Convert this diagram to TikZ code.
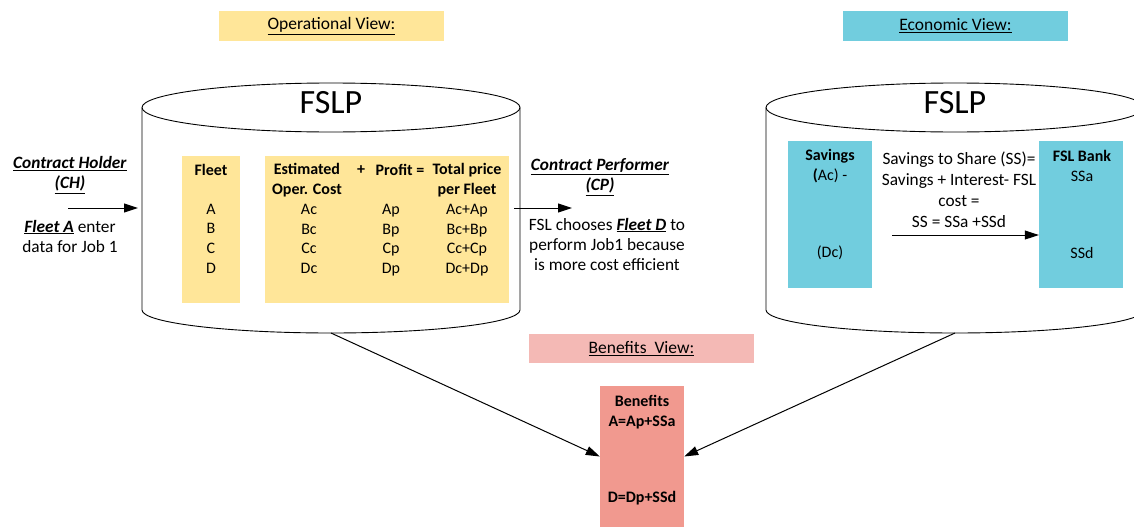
\documentclass[tikz,border=0pt]{standalone}
\usepackage{fontspec}
\setmainfont{Carlito}
\usetikzlibrary{arrows.meta}
\definecolor{opyellow}{HTML}{FFE699}
\definecolor{ecocyan}{HTML}{71CDDE}
\definecolor{benlight}{HTML}{F4B9B5}
\definecolor{benbox}{HTML}{F1998F}
\begin{document}
\begin{tikzpicture}[x=1pt,y=-1pt,
  cyl/.style={draw=black, line width=0.9pt},
  arr/.style={draw=black, line width=1pt, -{Triangle[length=14pt,width=9pt]}},
  panel/.style={draw=none, inner sep=0pt, anchor=center},
  txt/.style={inner sep=0pt, align=center, font=\fontsize{17.3}{20}\selectfont},
  tab/.style={inner sep=0pt, align=center, font=\fontsize{16}{19.6}\selectfont},
  tabb/.style={tab, font=\fontsize{16}{19.6}\selectfont\bfseries},
  head/.style={panel, minimum width=225pt, minimum height=30pt, font=\fontsize{17.5}{20}\selectfont},
  big/.style={inner sep=0pt, font=\fontsize{34}{36}\selectfont}
]
\useasboundingbox (0,0) rectangle (1134,527);
\clip (0,0) rectangle (1134,527);

% header labels
\node[head, fill=opyellow] (opview) at (331.5,26) {\underline{Operational View:}};
\node[head, fill=ecocyan] (ecoview) at (955.5,26) {\underline{Economic View:}};
\node[head, fill=benlight, minimum height=29pt] (benview) at (641.5,348.5) {\underline{Benefits\ \ View:}};

% left cylinder
\draw[cyl] (142,107.5) -- (142,310) arc[start angle=180,end angle=360,x radius=189pt,y radius=23pt] -- (520,107.5);
\draw[cyl] (331,107.5) ellipse[x radius=189pt, y radius=24.5pt];
\node[big] (fslpL) at (331,103) {FSLP};
\coordinate (cylLbot) at (331,333);

% right cylinder
\draw[cyl] (766,107.5) -- (766,310) arc[start angle=180,end angle=360,x radius=189pt,y radius=23pt] -- (1144,107.5);
\draw[cyl] (955,107.5) ellipse[x radius=189pt, y radius=24.5pt];
\node[big] (fslpR) at (955,103) {FSLP};
\coordinate (cylRbot) at (955,333);

% operational boxes
\node[panel, fill=opyellow, minimum width=58pt, minimum height=147pt] (fleetbox) at (211,229.5) {};
\node[panel, fill=opyellow, minimum width=244pt, minimum height=147pt] (tablebox) at (387,229.5) {};

\node[tabb] (fleethd) at (211,170) {Fleet};
\node[tab] (fleetcol) at (211,238.5) {A\\B\\C\\D};
\node[tabb] (esthd) at (307,180) {Estimated\\Oper. Cost};
\node[tab] (estcol) at (309,239) {Ac\\Bc\\Cc\\Dc};
\node[tabb] (plus) at (361,170) {+};
\node[tabb] (profhd) at (400,170) {Profit =};
\node[tab] (profcol) at (391,240) {Ap\\Bp\\Cp\\Dp};
\node[tabb] (tothd) at (467,180) {Total price\\per Fleet};
\node[tab] (totcol) at (467,240) {Ac+Ap\\Bc+Bp\\Cc+Cp\\Dc+Dp};

% contract holder
\node[txt] (ch) at (70,175) {\underline{\textbf{\textit{Contract Holder}}}\\\underline{\textbf{\textit{(CH)}}}};
\node[txt] (chtext) at (70,236) {\underline{\textbf{\textit{Fleet A}}} enter\\data for Job 1};
\coordinate (chA) at (68,208);
\coordinate (chB) at (138,208);
\draw[arr] (chA) -- (chB);

% contract performer
\node[txt] (cp) at (600,177) {\underline{\textbf{\textit{Contract Performer}}}\\\underline{\textbf{\textit{(CP)}}}};
\node[txt] (cptext) at (607,244) {FSL chooses \underline{\textbf{\textit{Fleet D}}} to\\perform Job1 because\\is more cost efficient};
\coordinate (cpA) at (514,208);
\coordinate (cpB) at (572,208);
\draw[arr] (cpA) -- (cpB);

% economic boxes
\node[panel, fill=ecocyan, minimum width=84pt, minimum height=147pt] (savbox) at (830,214.5) {};
\node[panel, fill=ecocyan, minimum width=84pt, minimum height=147pt] (bankbox) at (1081,214.5) {};
\node[tab, font=\fontsize{16}{19.6}\selectfont] (savtxt) at (830,166) {\textbf{Savings}\\\textbf{(}Ac) -};
\node[tab] (savdc) at (830,253) {(Dc)};
\node[tab] (banktxt) at (1082,166) {\textbf{FSL Bank}\\SSa};
\node[tab] (bankssd) at (1082,253) {SSd};
\node[txt, font=\fontsize{17.3}{21}\selectfont] (sstxt) at (959,190) {Savings to Share (SS)=\\Savings + Interest- FSL\\cost =\\SS = SSa +SSd};
\coordinate (ecA) at (892,235);
\draw[arr] (ecA) -- (ecA -| bankbox.west);

% benefits
\node[panel, fill=benbox, minimum width=84pt, minimum height=141pt] (benbox) at (642,456.5) {};
\node[tabb] (bentxt) at (642,412) {Benefits\\A=Ap+SSa};
\node[tabb] (bend) at (642,498) {D=Dp+SSd};

\draw[arr] (cylLbot) -- (benbox.west);
\draw[arr] (cylRbot) -- (benbox.east);
\end{tikzpicture}
\end{document}
